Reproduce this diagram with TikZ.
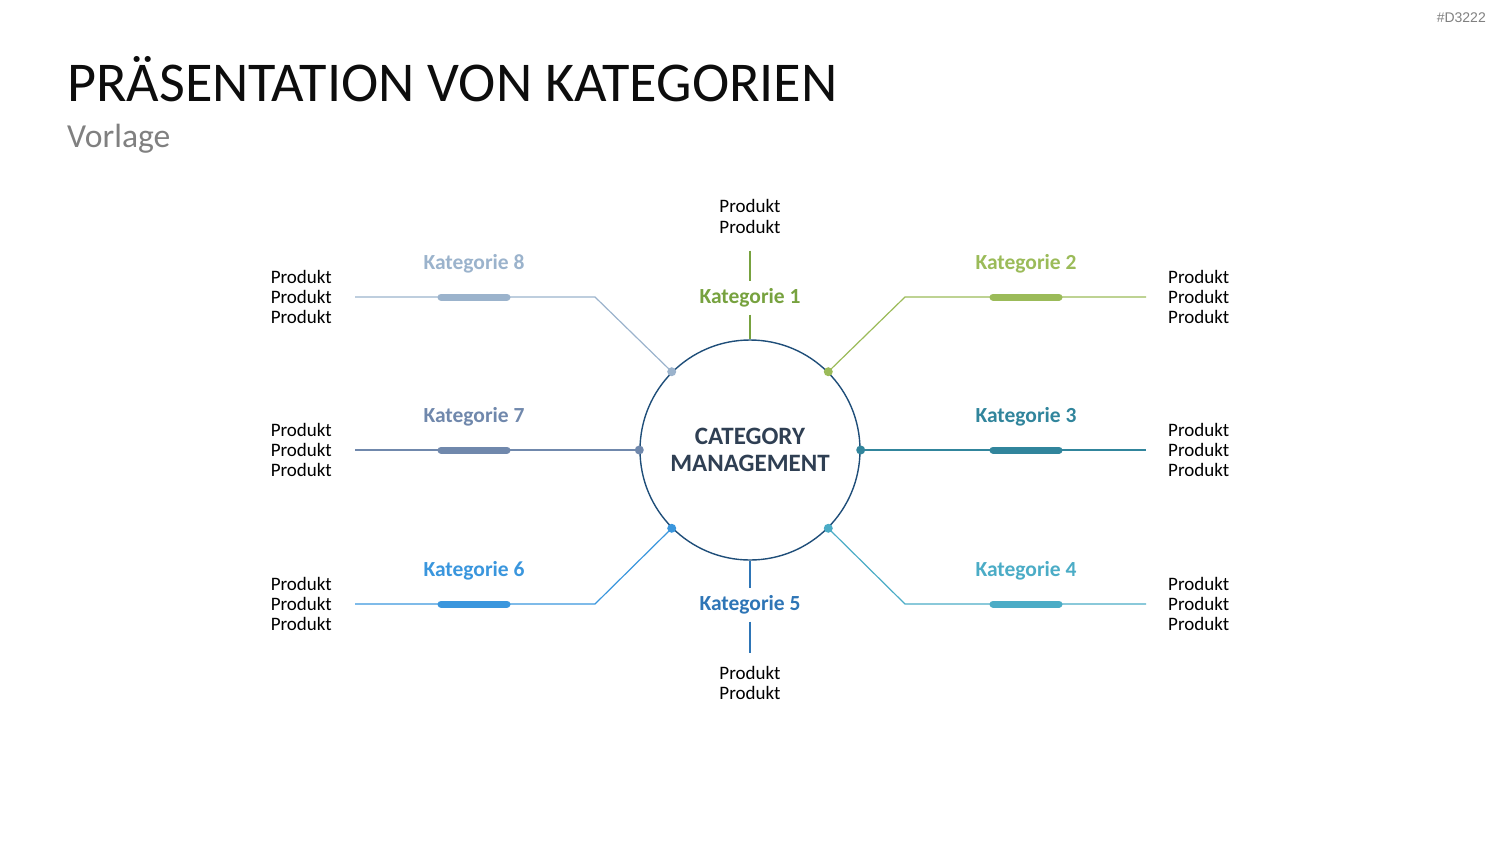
\documentclass[tikz,border=0pt]{standalone}
\usepackage{fontspec}
\setmainfont{Carlito}
\newfontfamily\tagfont{Liberation Sans}
\usepackage{xcolor}
\usetikzlibrary{positioning}

\definecolor{ring}{HTML}{1F4E79}
\definecolor{hub}{HTML}{2F3F53}
\definecolor{kat1}{HTML}{77A23F}
\definecolor{kat2}{HTML}{9BBB59}
\definecolor{kat3}{HTML}{31859C}
\definecolor{kat4}{HTML}{4BACC6}
\definecolor{kat5}{HTML}{2E75B6}
\definecolor{kat6}{HTML}{3A96DD}
\definecolor{kat7}{HTML}{7088AC}
\definecolor{kat8}{HTML}{9BB3CC}

\begin{document}
\begin{tikzpicture}[
    x=1pt, y=-1pt,
    kat label/.style = {
        font=\fontsize{21.5}{25}\selectfont\bfseries,
        text=#1,
        inner sep=1pt
    },
    produkt/.style = {
        font=\fontsize{19}{20.3}\selectfont,
        align=left,
        inner sep=0pt
    },
    branch/.style = {draw=#1, line width=1.2pt},
    bar/.style = {draw=#1, line width=7pt, line cap=round},
    dot/.style = {circle, fill=#1, inner sep=0pt, minimum size=9pt}
]
\useasboundingbox (0,0) rectangle (1500,844);

% heading
\node[anchor=base west, inner sep=0pt, font=\fontsize{56.2}{68}\selectfont, text=black!95] (title) at (67,101) {PRÄSENTATION VON KATEGORIEN};
\node[anchor=base west, inner sep=0pt, font=\fontsize{33.6}{40}\selectfont, text=black!50] (sub) at (67,147) {Vorlage};
\node[anchor=north east, inner sep=0pt, font=\tagfont\fontsize{14}{16}\selectfont, text=black!50] (tag) at (1486,13) {\#D3222};

% hub
\node[circle, draw=ring, line width=1.4pt, minimum size=220pt, inner sep=0pt,
      font=\fontsize{25}{27}\selectfont\bfseries, text=hub, align=center] (cm) at (750,450) {CATEGORY\\MANAGEMENT};

% top and bottom
\node[produkt, align=center] (p1) at (750,216.5) {Produkt\\Produkt};
\node[kat label=kat1] (k1) at (750,298) {Kategorie 1};
\draw[branch=kat1, shorten <=17pt, shorten >=6pt] (p1.south) -- (k1.north);
\draw[branch=kat1, shorten <=6pt] (k1.south) -- (cm.north);

\node[kat label=kat5] (k5) at (750,605) {Kategorie 5};
\node[produkt, align=center] (p5) at (750,683) {Produkt\\Produkt};
\draw[branch=kat5, shorten >=6pt] (cm.south) -- (k5.north);
\draw[branch=kat5, shorten <=6pt, shorten >=13pt] (k5.south) -- (p5.north);

% side branches
\foreach \n/\a/\bx/\by/\ex/\lx/\px/\pa in {
    2/45/905/297/1146/1026/1168/west,
    3/0/905/450/1146/1026/1168/west,
    4/-45/905/604/1146/1026/1168/west,
    6/225/595/604/355/474/332/east,
    7/180/595/450/355/474/332/east,
    8/135/595/297/355/474/332/east}
{
    \coordinate (b\n) at (\bx,\by);
    \coordinate (e\n) at (\ex,\by);
    \node[kat label=kat\n] (k\n) at (\lx,\by-33) {Kategorie \n};
    \node[produkt, anchor=\pa] (p\n) at (\px,\by) {Produkt\\Produkt\\Produkt};
    \draw[branch=kat\n] (cm.\a) -- (b\n) -- (e\n);
    \draw[bar=kat\n] ([xshift=-33pt]k\n.center |- b\n) -- ([xshift=33pt]k\n.center |- b\n);
    \node[dot=kat\n] (d\n) at (cm.\a) {};
}

\end{tikzpicture}
\end{document}
